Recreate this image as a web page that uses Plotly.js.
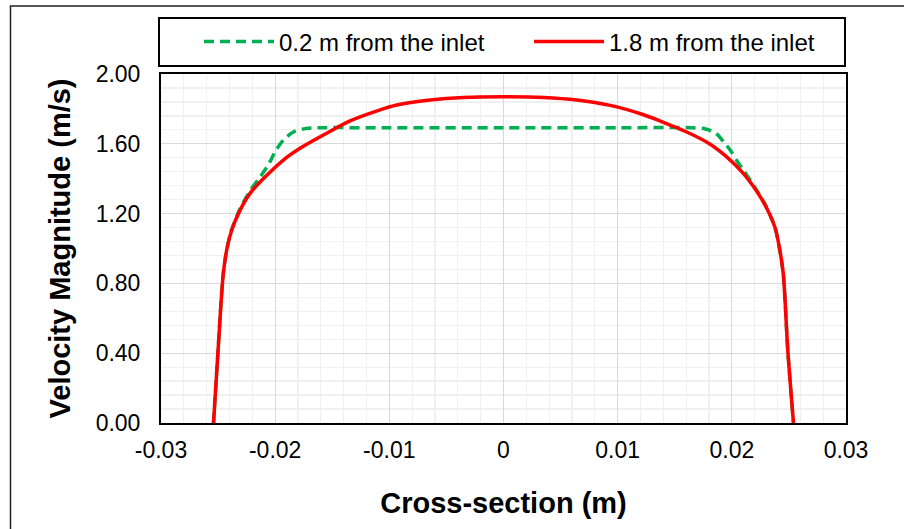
<!DOCTYPE html>
<html>
<head>
<meta charset="utf-8">
<script src="https://cdn.plot.ly/plotly-3.0.1.min.js"></script>
<style>
  html, body { margin: 0; padding: 0; background: #ffffff; }
  #chart { width: 904px; height: 529px; }
</style>
</head>
<body>
<div id="chart"></div>
<script>
// Series names
const seriesNames = ["0.2 m from the inlet", "1.8 m from the inlet"];

// 0.2 m from the inlet (green dashed)
const xGreen = [-0.0254, -0.0250, -0.02454, -0.02419, -0.0238, -0.0231, -0.0222, -0.0213, -0.0206, -0.0200, -0.0193, -0.0184, -0.0173, -0.0162,
                -0.0100, 0.0000, 0.0100,
                0.0165, 0.0177, 0.0186, 0.0193, 0.0199, 0.0204, 0.0210, 0.0216, 0.0225, 0.0231, 0.0238, 0.02415, 0.0245, 0.0249, 0.0254];
const yGreen = [0.00, 0.418, 0.858, 1.010, 1.110, 1.225, 1.33, 1.412, 1.48, 1.555, 1.620, 1.668, 1.688, 1.692,
                1.692, 1.692, 1.692,
                1.692, 1.685, 1.660, 1.610, 1.560, 1.507, 1.450, 1.393, 1.300, 1.230, 1.116, 1.010, 0.858, 0.418, 0.00];

// 1.8 m from the inlet (red solid)
const xRed = [-0.0254, -0.0250, -0.02454, -0.02419, -0.0238, -0.02307, -0.0222, -0.0210, -0.01928, -0.01782, -0.01578, -0.01344, -0.0110,
              -0.00935, -0.00644, -0.00352,
              0.0000,
              0.00352, 0.00644, 0.00935, 0.0122, 0.0137, 0.0160, 0.0181, 0.0195, 0.0210, 0.0222, 0.0231, 0.0238, 0.02415, 0.0245, 0.0249, 0.0254];
const yRed = [0.00, 0.418, 0.858, 1.010, 1.106, 1.220, 1.316, 1.402, 1.507, 1.574, 1.650, 1.731, 1.790,
              1.822, 1.851, 1.866,
              1.870,
              1.866, 1.851, 1.820, 1.768, 1.731, 1.669, 1.598, 1.528, 1.431, 1.326, 1.225, 1.116, 1.010, 0.858, 0.418, 0.00];

// Tick labels
const xTickVals = [-0.03, -0.02, -0.01, 0, 0.01, 0.02, 0.03];
const xTickText = ["-0.03", "-0.02", "-0.01", "0", "0.01", "0.02", "0.03"];
const yTickVals = [0, 0.4, 0.8, 1.2, 1.6, 2.0];
const yTickText = ["0.00", "0.40", "0.80", "1.20", "1.60", "2.00"];

const xTitle = "Cross-section (m)";
const yTitle = "Velocity Magnitude (m/s)";

const FONT = "Arial, 'Liberation Sans', Helvetica, sans-serif";

const traces = [
  {
    x: xGreen, y: yGreen, name: seriesNames[0], type: "scatter", mode: "lines",
    line: { color: "#00B050", width: 3.5, dash: "10px,6px", shape: "spline", smoothing: 0.8 },
    hoverinfo: "x+y"
  },
  {
    x: xRed, y: yRed, name: seriesNames[1], type: "scatter", mode: "lines",
    line: { color: "#FF0000", width: 3.5, shape: "spline", smoothing: 0.8 },
    hoverinfo: "x+y"
  }
];

const plotL = 161, plotR = 846, plotT = 74, plotB = 423;
const W = 904, H = 529;
const pw = plotR - plotL, ph = plotB - plotT;
function px2x(p) { return (p - plotL) / pw; }
function px2y(p) { return (plotB - p) / ph; }

const layout = {
  width: W, height: H,
  margin: { l: plotL, r: W - plotR, t: plotT, b: H - plotB, pad: 0 },
  paper_bgcolor: "#ffffff",
  plot_bgcolor: "#ffffff",
  font: { family: FONT, color: "#000000", size: 23 },
  showlegend: true,
  legend: {
    orientation: "h",
    x: px2x(529), xanchor: "center",
    y: px2y(42), yanchor: "middle",
    font: { family: FONT, size: 24, color: "#000000" },
    bgcolor: "rgba(0,0,0,0)",
    borderwidth: 0,
    itemwidth: 70,
    entrywidth: 245,
    entrywidthmode: "pixels"
  },
  xaxis: {
    range: [-0.03, 0.03],
    tickmode: "array", tickvals: xTickVals, ticktext: xTickText,
    ticks: "", showline: true, mirror: true, linecolor: "#000000", linewidth: 2,
    showgrid: true, gridcolor: "#d9d9d9", gridwidth: 1.3,
    zeroline: false,
    minor: { tickmode: "linear", tick0: 0, dtick: 0.002, showgrid: true, gridcolor: "#f0f0f0", gridwidth: 1.3, ticks: "" },
    tickfont: { family: FONT, size: 23, color: "#000000" },
    ticklabelstandoff: 5,
    title: { text: xTitle, font: { family: FONT, size: 29, color: "#000000", weight: "bold" }, standoff: 31 },
    fixedrange: true
  },
  yaxis: {
    range: [0, 2.0],
    tickmode: "array", tickvals: yTickVals, ticktext: yTickText,
    ticks: "", showline: true, mirror: true, linecolor: "#000000", linewidth: 2,
    showgrid: true, gridcolor: "#d9d9d9", gridwidth: 1.3,
    zeroline: false,
    minor: { tickmode: "linear", tick0: 0, dtick: 0.08, showgrid: true, gridcolor: "#f0f0f0", gridwidth: 1.3, ticks: "" },
    tickfont: { family: FONT, size: 23, color: "#000000" },
    ticklabelstandoff: 14,
    title: { text: yTitle, font: { family: FONT, size: 29, color: "#000000", weight: "bold" }, standoff: 16 },
    fixedrange: true
  },
  shapes: [
    // outer chart frame
    { type: "rect", xref: "paper", yref: "paper",
      x0: px2x(10.5), x1: px2x(W + 20), y0: px2y(H + 20), y1: px2y(6),
      line: { color: "#222222", width: 1.5 }, fillcolor: "rgba(0,0,0,0)", layer: "above" },
    // legend box
    { type: "rect", xref: "paper", yref: "paper",
      x0: px2x(159), x1: px2x(845), y0: px2y(66), y1: px2y(18),
      line: { color: "#000000", width: 2 }, fillcolor: "rgba(0,0,0,0)", layer: "above" }
  ]
};

Plotly.newPlot("chart", traces, layout, { displayModeBar: false, staticPlot: true });
</script>
</body>
</html>
